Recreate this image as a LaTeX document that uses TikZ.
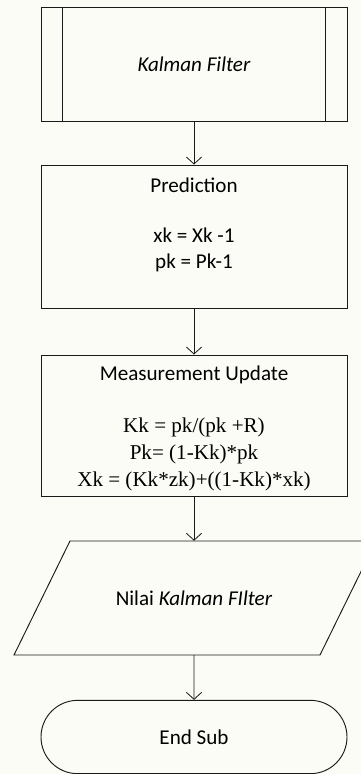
\documentclass[tikz,border=0pt]{standalone}
\usepackage{fontspec}
\setmainfont{Carlito}
\newfontfamily\formfont{Liberation Serif}
\usepackage{xcolor}
\usetikzlibrary{arrows.meta, positioning, shapes.misc}
\definecolor{flowLine}{HTML}{1A1A1A}
\definecolor{flowPaper}{HTML}{FCFCF6}

\begin{document}
\begin{tikzpicture}[
  x=0.03cm, y=-0.03cm,
  font=\fontsize{18}{22}\selectfont,
  procbox/.style={draw=flowLine, line width=0.8pt, minimum width=9.18cm, inner sep=0pt},
  subbox/.style={procbox, minimum height=3.42cm},
  termbox/.style={draw=flowLine, line width=0.8pt, rounded rectangle, minimum width=9.18cm, minimum height=2.2cm, inner sep=0pt},
  formula/.style={font=\formfont\fontsize{18}{23.4}\selectfont, align=center},
  a/.style={-{Straight Barb[length=2.1mm, width=4.6mm]}, line width=0.7pt, draw=flowLine}
]
\useasboundingbox[fill=flowPaper] (0,0) rectangle (361,774);
% sub-routine
\node[subbox] (kf) at (194,64) {\textit{Kalman Filter}};
\draw[line width=0.8pt, flowLine] ([xshift=0.66cm]kf.north west) -- ([xshift=0.66cm]kf.south west);
\draw[line width=0.8pt, flowLine] ([xshift=-0.66cm]kf.north east) -- ([xshift=-0.66cm]kf.south east);
% prediction
\node[procbox, minimum height=4.29cm] (pred) at (194,236.5) {};
\node (predhead) at (194,185) {Prediction};
\node[align=center] (predeq) at (194,250) {xk = Xk -1\\pk = Pk-1};
% measurement update
\node[procbox, minimum height=4.23cm] (meas) at (194,425.5) {};
\node (meashead) at (194,375) {Measurement Update};
\node[formula] (measeq) at (194,454.5) {Kk = pk/(pk +R)\\Pk= (1-Kk)*pk\\Xk = (Kk*zk)+((1-Kk)*xk)};
% output
\draw[line width=0.8pt, flowLine] (70,541) -- (376,541) -- (320,655) -- (14,655) -- cycle;
\node[minimum height=3.42cm, inner sep=0pt] (out) at (194,598) {Nilai \textit{Kalman FIlter}};
% end
\node[termbox] (end) at (194,737) {End Sub};
\draw[a] (kf) -- (pred);
\draw[a] (pred) -- (meas);
\draw[a] (meas) -- (out);
\draw[a] (out) -- (end);
\end{tikzpicture}
\end{document}
